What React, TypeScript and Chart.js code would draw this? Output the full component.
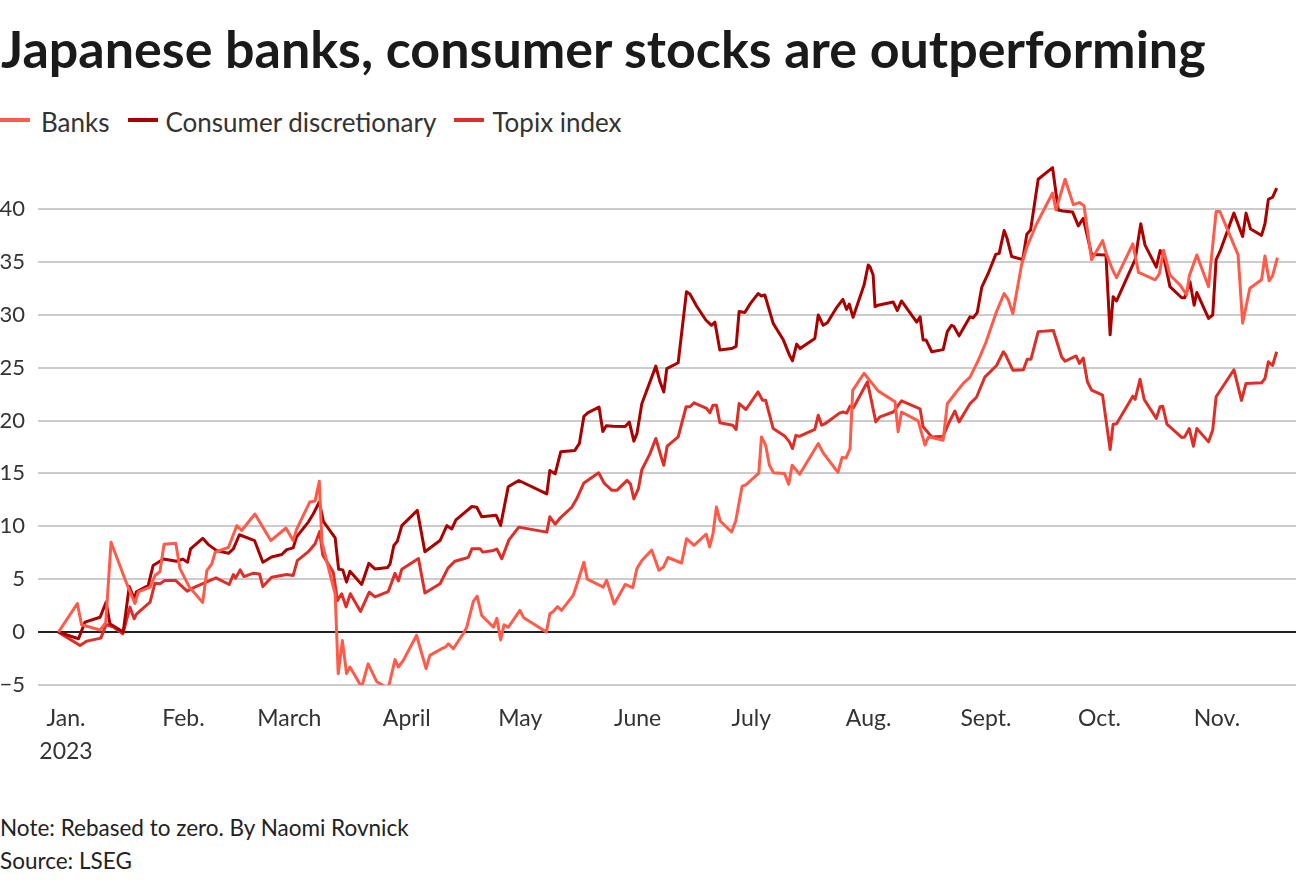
import React, { useEffect, useRef } from "react";
import { Chart, registerables } from "chart.js";

Chart.register(...registerables);

const FONT = "Lato, 'Open Sans', sans-serif";

const TITLE = "Japanese banks, consumer stocks are outperforming";
const NOTE = "Note: Rebased to zero. By Naomi Rovnick";
const SOURCE = "Source: LSEG";

// x values are days since 1 Jan 2023 (trading days)
const monthStartDays = [0, 31, 59, 90, 120, 151, 181, 212, 243, 273, 304];
const monthLabels: (string | string[])[] = [
  ["Jan.", "2023"], "Feb.", "March", "April", "May", "June", "July", "Aug.", "Sept.", "Oct.", "Nov.",
];
const yTickValues = [-5, 0, 5, 10, 15, 20, 25, 30, 35, 40];

const seriesNames = ["Banks", "Consumer discretionary", "Topix index"];
const seriesColors = ["#ff5b4a", "#ab0000", "#de2e27"];

const banksDays = [
  -2, 3, 4.1, 9, 10.5, 11.9, 16, 18.2, 19.1, 22.2,
  23.5, 24.8, 25.9, 29, 30.1, 32.6, 36.1, 37.2, 38.5, 39.4,
  42.9, 45.1, 46.4, 49.9, 54.1, 58.1, 60, 60.9, 64.4, 65.8,
  66.9, 67.6, 70.4, 71.1, 71.9, 73, 74.1, 75, 78.1, 79.8,
  82.1, 85.1, 86.9, 87.8, 89.1, 92.6, 95.1, 96.1, 99.2, 100.3,
  101, 102.3, 104.9, 105.8, 107.6, 108.6, 109.8, 112.9, 113.8, 114.8,
  115.7, 116.8, 119.9, 120.9, 126.9, 127.8, 128.7, 129.8, 130.9, 134,
  135.3, 136.8, 137.7, 141.9, 142.8, 144.8, 147.7, 149.7, 150.8, 152.1,
  154.7, 156.6, 157.8, 159, 162.6, 163.9, 165.9, 169.1, 170, 170.9,
  171.8, 172.8, 175.8, 176.9, 178.6, 179.5, 183, 183.7, 184.8, 185.8,
  186.9, 189.8, 190.9, 191.8, 193.8, 198.7, 200, 203.9, 205, 206,
  207.1, 207.8, 210.8, 214.5, 219, 219.8, 220.7, 225.1, 226.9, 227.8,
  231.7, 232.8, 233.9, 235.4, 237, 238.8, 241, 243, 245.8, 247.8,
  248.9, 250.1, 252.4, 253.8, 256.4, 260.6, 261.5, 263.9, 266.1, 267.7,
  268.9, 270.9, 273.8, 274.9, 276.5, 277.5, 281.8, 283.3, 287.7, 288.8,
  289.9, 291.6, 294.3, 296, 296.7, 298.7, 301.8, 303.8, 304.8, 309.6,
  310.8, 312.7, 315.8, 316.7, 317.8, 318.7, 320,
];
const banksValues = [
  0, 2.7, 0.7, 0.2, 0.9, 8.5, 4.6, 2.7, 3.8, 4.25,
  5.35, 5.7, 8.3, 8.4, 6.0, 4.25, 2.8, 5.8, 6.45, 7.55,
  8.0, 10.06, 9.6, 11.16, 8.65, 9.84, 8.65, 9.7, 12.3, 12.4,
  14.25, 8.5, 4.56, 3.6, -3.93, -0.8, -3.93, -3.3, -5.2, -3.0,
  -4.7, -5.35, -2.6, -3.3, -2.67, -0.3, -3.46, -2.2, -1.57, -1.4,
  -1.1, -1.57, -0.16, 0.4, 2.9, 3.4, 1.57, 0.47, 1.3, -0.75,
  0.7, 0.45, 2.05, 1.35, 0, 1.73, 1.95, 2.4, 2.05, 3.5,
  4.9, 6.6, 5.0, 4.25, 4.9, 2.65, 4.5, 4.2, 6.0, 6.77,
  7.75, 5.84, 6.15, 7.05, 6.53, 8.83, 8.2, 9.27, 8.06, 9.3,
  11.83, 10.5, 9.46, 10.5, 13.8, 13.9, 15.02, 18.45, 17.67, 15.77,
  15.05, 14.98, 13.98, 15.77, 14.92, 17.82, 16.94, 15.1, 16.5, 16.45,
  17.35, 22.85, 24.47, 22.8, 21.77, 18.93, 20.8, 19.97, 17.67, 18.45,
  18.14, 21.6, 22.1, 22.8, 23.5, 24.1, 25.7, 27.4, 30.3, 32.0,
  31.4, 30.1, 34.7, 36.4, 38.6, 41.5, 39.9, 42.8, 40.4, 40.6,
  40.3, 35.2, 37.0, 35.65, 34.2, 33.5, 36.7, 34.0, 33.3, 33.85,
  36.1, 33.75, 32.8, 31.86, 33.66, 35.65, 32.65, 39.75, 39.75, 35.65,
  29.2, 32.5, 33.3, 35.55, 33.2, 33.66, 35.4,
];

const consumerDays = [
  -2, 3.3, 5, 9, 10.6, 11.6, 15.1, 16.7, 18, 18.6,
  21.7, 23, 24.4, 25.7, 29.2, 30.8, 32.1, 32.9, 36.1, 37.6,
  39.8, 42.9, 44.2, 45.8, 49.8, 52, 54.3, 57, 58.3, 60,
  60.9, 64, 65.3, 66.9, 68, 71.1, 72, 73.1, 74.1, 75,
  78.1, 80, 81.6, 84.9, 85.6, 86.6, 87.5, 88.7, 92.8, 94.8,
  98.8, 100.6, 101.9, 103, 104.9, 107.2, 108.5, 109.8, 113.6, 114.8,
  116.8, 119.6, 127, 127.8, 129.2, 130.7, 134.4, 135.6, 136.8, 137.9,
  140.8, 141.8, 142.7, 144.5, 147.7, 148.8, 150, 150.8, 152.1, 155.8,
  156.9, 157.9, 158.7, 161.7, 163.9, 164.8, 166.6, 169, 170.5, 171.4,
  172.7, 175.8, 177, 177.8, 179.3, 180.8, 182.8, 183.7, 184.6, 186.8,
  189.5, 191.1, 191.9, 193, 193.9, 197.8, 198.7, 200, 201.1, 203.6,
  205.2, 206.2, 206.9, 207.9, 210.8, 211.9, 212.4, 213.2, 213.7, 214.5,
  218.5, 219.6, 220.7, 224.7, 225.6, 226.4, 227.2, 228.7, 231.7, 232.8,
  233.9, 234.5, 235.9, 238.8, 239.6, 240.7, 241.9, 243.6, 245.6, 246.5,
  247.8, 248.6, 249.8, 252.7, 253.8, 254.8, 256.8, 260.6, 262.1, 263.3,
  265.9, 267.4, 268.7, 270.9, 274.7, 275.8, 276.6, 277.5, 282.4, 283.9,
  285, 288, 289, 289.9, 291.6, 294.7, 295.5, 296.9, 298, 298.7,
  301.8, 302.9, 303.8, 304.8, 308.5, 310.8, 311.7, 312.9, 315.8, 316.7,
  317.6, 318.7, 319.8,
];
const consumerValues = [
  0, -0.63, 0.94, 1.4, 2.83, 0.79, 0, 4.3, 3.14, 3.8,
  4.4, 6.29, 6.6, 6.9, 6.7, 6.9, 6.6, 7.86, 8.87, 8.27,
  7.7, 7.45, 7.86, 9.2, 8.65, 6.6, 7.1, 7.33, 7.8, 7.96,
  9.0, 10.4, 11.16, 12.3, 10.45, 8.9, 5.95, 5.88, 4.72, 5.75,
  4.5, 6.5, 5.97, 6.1, 6.45, 8.18, 8.58, 10.07, 11.5, 7.6,
  8.65, 10.06, 9.75, 10.6, 11.17, 11.87, 11.8, 10.9, 11.05, 10.08,
  13.73, 14.33, 13.07, 15.28, 14.96, 17.05, 17.17, 17.83, 20.4, 20.75,
  21.27, 18.97, 19.5, 19.45, 19.43, 19.85, 18.05, 18.75, 21.58, 25.14,
  23.66, 22.7, 24.9, 25.46, 32.18, 31.96, 30.8, 29.5, 29.0, 29.3,
  26.66, 26.8, 27.0, 30.3, 30.2, 31.07, 32.0, 31.77, 31.86, 29.18,
  27.6, 26.18, 25.65, 27.22, 26.8, 27.76, 29.97, 29.0, 29.24, 30.7,
  31.45, 30.5, 31.0, 29.75, 32.8, 34.7, 34.5, 33.75, 30.76, 30.9,
  31.2, 30.4, 31.3, 29.3, 29.8, 27.6, 27.6, 26.5, 26.7, 28.4,
  29.0, 28.9, 28.0, 29.8, 29.7, 30.2, 32.6, 33.9, 35.7, 35.8,
  37.95, 37.2, 35.5, 35.2, 37.6, 38.0, 42.8, 43.9, 39.9, 39.8,
  39.7, 38.4, 39.1, 35.7, 35.65, 28.1, 31.7, 31.3, 35.2, 38.6,
  36.6, 34.5, 36.06, 35.55, 32.65, 31.6, 31.6, 33.1, 30.9, 32.1,
  29.65, 29.97, 35.2, 35.96, 39.6, 37.4, 39.6, 38.1, 37.5, 38.6,
  40.9, 41.1, 41.96,
];

const topixDays = [
  -2, 3.7, 5.5, 9.2, 10.6, 12.5, 15, 16.9, 18, 18.6,
  22.2, 23.5, 24.8, 26.1, 29, 32, 34, 39.6, 43.1, 44.2,
  44.8, 46, 47, 49.5, 51.1, 52, 54.3, 58.3, 60, 61.1,
  64, 65.8, 67, 67.8, 70.6, 71.7, 72.8, 74, 75.1, 77.8,
  80.1, 81.6, 85.1, 86.9, 87.8, 88.7, 93.1, 94.8, 98.8, 100.9,
  102.7, 105.3, 106.3, 107.2, 109.4, 110.1, 112.9, 113.8, 115.1, 117,
  119.6, 127, 127.8, 129.2, 130.7, 133.6, 134.9, 136.8, 140.7, 142.2,
  144.2, 145.5, 148.2, 149.1, 150, 151.2, 152.1, 154.2, 155.8, 157.2,
  157.9, 158.8, 161.7, 163.8, 164.8, 165.9, 169.2, 170.1, 170.9, 171.8,
  172.7, 176.1, 177, 177.8, 179.6, 182.8, 184, 184.8, 186.8, 189.9,
  191.1, 191.9, 192.8, 193.7, 197.8, 198.7, 199.6, 200.5, 204.3, 205.2,
  206.2, 207.1, 208, 211.7, 213.9, 215, 218.5, 220.7, 225.6, 226.4,
  228.7, 231.7, 233.1, 234.8, 235.9, 238.8, 240.5, 242.7, 245.8, 247.6,
  248.2, 250.1, 252.9, 253.9, 254.9, 256.8, 260.8, 263, 263.9, 266.8,
  267.7, 268.7, 269.8, 270.9, 273.8, 275.8, 276.6, 277.5, 281.8, 282.4,
  283.7, 284.8, 288, 289, 289.7, 290.8, 294.7, 295.5, 296.7, 297.8,
  298.7, 301.8, 302.9, 303.8, 308.5, 310.5, 311.7, 315.8, 316.7, 317.6,
  318.7, 319.8,
];
const topixValues = [
  0, -1.26, -0.85, -0.57, 0.72, 0.47, -0.16, 2.36, 1.26, 1.7,
  2.83, 4.62, 4.56, 4.87, 4.87, 3.87, 4.25, 5.13, 4.5, 5.44,
  5.1, 5.88, 5.25, 5.57, 5.5, 4.3, 5.19, 5.44, 5.35, 6.76,
  7.6, 8.35, 9.5, 7.3, 5.66, 2.99, 3.62, 2.38, 3.62, 1.95,
  3.77, 3.33, 3.82, 5.55, 4.84, 5.95, 6.95, 3.7, 4.57, 6.05,
  6.7, 6.95, 7.09, 7.87, 7.87, 7.56, 7.72, 7.85, 6.93, 8.72,
  9.92, 9.45, 10.9, 10.2, 10.85, 11.8, 12.6, 14.1, 15.06, 14.05,
  13.4, 13.4, 14.34, 14.0, 12.6, 13.56, 15.35, 16.82, 18.3, 16.56,
  15.77, 17.57, 18.45, 21.3, 21.3, 21.67, 21.14, 20.73, 21.45, 21.45,
  19.78, 19.56, 19.15, 21.6, 21.04, 22.7, 21.92, 21.92, 19.24, 18.5,
  17.98, 17.35, 18.6, 18.5, 19.15, 20.5, 19.56, 19.7, 20.7, 20.8,
  20.7, 21.36, 21.2, 23.66, 19.87, 20.35, 20.8, 21.86, 21.1, 19.4,
  18.45, 18.5, 19.7, 20.9, 19.87, 21.6, 22.2, 24.1, 25.2, 26.5,
  26.2, 24.76, 24.8, 25.8, 25.8, 28.4, 28.5, 26.0, 25.6, 26.1,
  25.4, 25.9, 23.66, 22.87, 22.4, 17.26, 19.65, 19.7, 22.3, 22.0,
  23.9, 21.99, 20.2, 21.3, 21.35, 19.65, 18.4, 18.45, 19.24, 17.57,
  19.24, 17.98, 19.1, 22.24, 24.8, 21.9, 23.5, 23.56, 23.97, 25.55,
  25.2, 26.5,
];

const seriesDays = [banksDays, consumerDays, topixDays];
const seriesValues = [banksValues, consumerValues, topixValues];

export default function App() {
  const canvasRef = useRef<HTMLCanvasElement | null>(null);

  useEffect(() => {
    const canvas = canvasRef.current;
    if (!canvas) return;
    const chart = new Chart(canvas, {
      type: "line",
      data: {
        datasets: seriesNames.map((name, s) => ({
          label: name,
          data: seriesDays[s].map((d, i) => ({ x: d, y: seriesValues[s][i] })),
          borderColor: seriesColors[s],
          backgroundColor: seriesColors[s],
          borderWidth: 3,
          pointRadius: 0,
          pointHoverRadius: 0,
          tension: 0,
          borderJoinStyle: "round" as const,
        })),
      },
      options: {
        animation: false,
        responsive: false,
        devicePixelRatio: 1,
        layout: { autoPadding: false, padding: { top: 16, right: 4, bottom: 0, left: 0 } },
        plugins: { legend: { display: false }, tooltip: { enabled: false } },
        scales: {
          x: {
            type: "linear",
            min: -7.4,
            max: 324.9,
            afterBuildTicks: (scale: any) => {
              scale.ticks = monthStartDays.map((v) => ({ value: v }));
            },
            afterFit: (scale: any) => {
              scale.height = 95;
              scale.paddingLeft = 0;
              scale.paddingRight = 0;
            },
            grid: { display: false, drawTicks: false },
            border: { display: false },
            ticks: {
              autoSkip: false,
              maxRotation: 0,
              minRotation: 0,
              padding: 17,
              color: "#333333",
              font: { family: FONT, size: 23, lineHeight: 1.45 },
              callback: (_v: any, i: number) => monthLabels[i],
            },
          },
          y: {
            min: -5,
            max: 45,
            afterBuildTicks: (scale: any) => {
              scale.ticks = yTickValues.map((v) => ({ value: v }));
            },
            afterFit: (scale: any) => {
              scale.width = 38;
              scale.paddingTop = 0;
              scale.paddingBottom = 0;
            },
            grid: {
              drawTicks: false,
              color: (ctx: any) => (ctx.tick && ctx.tick.value === 0 ? "#222222" : "#cccccc"),
              lineWidth: 2,
            },
            border: { display: false },
            ticks: {
              padding: 13,
              color: "#333333",
              font: { family: FONT, size: 22 },
              callback: (v: any) => (Number(v) < 0 ? "\u2212" + Math.abs(Number(v)) : String(v)),
            },
          },
        },
      },
    });
    return () => chart.destroy();
  }, []);

  return (
    <div
      style={{
        position: "absolute",
        left: 0,
        top: 0,
        width: 1300,
        height: 880,
        background: "#ffffff",
        fontFamily: FONT,
        color: "#1a1a1a",
        overflow: "hidden",
      }}
    >
      <div
        style={{
          position: "absolute",
          left: 1,
          top: 17,
          fontSize: 52,
          fontWeight: 700,
          lineHeight: "62px",
          whiteSpace: "nowrap",
          color: "#1a1a1a",
        }}
      >
        {TITLE}
      </div>
      <div
        style={{
          position: "absolute",
          left: 0,
          top: 106,
          height: 32,
          display: "flex",
          alignItems: "center",
          fontSize: 26,
          lineHeight: "32px",
          color: "#333333",
          whiteSpace: "nowrap",
        }}
      >
        {seriesNames.map((name, i) => (
          <div key={name} style={{ display: "flex", alignItems: "center", marginRight: 18 }}>
            <span
              style={{
                display: "inline-block",
                width: 30,
                height: 4,
                background: seriesColors[i],
                marginRight: i === 0 ? 11 : 8,
                marginTop: -4,
              }}
            />
            <span>{name}</span>
          </div>
        ))}
      </div>
      <canvas
        ref={canvasRef}
        width={1300}
        height={640}
        style={{ position: "absolute", left: 0, top: 140, width: 1300, height: 640 }}
      />
      <div
        style={{
          position: "absolute",
          left: 0,
          top: 811,
          fontSize: 22.5,
          lineHeight: "33px",
          color: "#222222",
          whiteSpace: "nowrap",
        }}
      >
        <div>{NOTE}</div>
        <div>{SOURCE}</div>
      </div>
    </div>
  );
}
